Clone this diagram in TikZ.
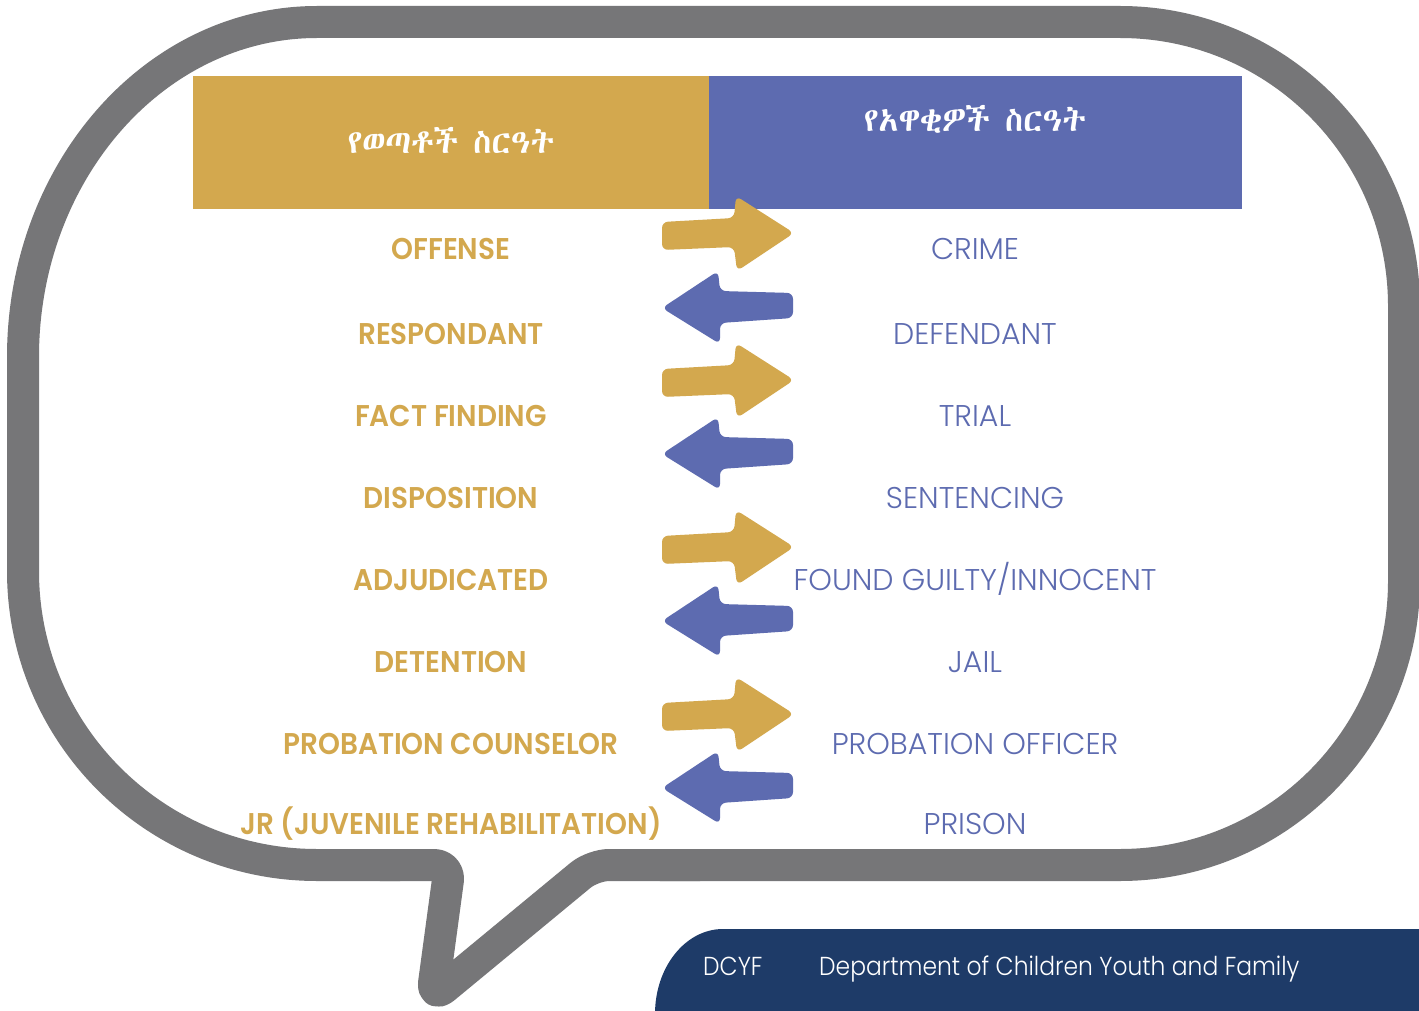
\documentclass[tikz,border=0pt]{standalone}
\usepackage{fontspec}
\setmainfont{Poppins}
\IfFontExistsTF{Poppins SemiBold}{\newfontfamily\lblfont{Poppins SemiBold}[FakeStretch=0.93]}{\newfontfamily\lblfont{Poppins}[UprightFont={* Bold},FakeStretch=0.93]}
\IfFontExistsTF{Poppins Light}{\newfontfamily\thinfont{Poppins Light}\newfontfamily\navyfont{Poppins Light}[FakeStretch=0.9]}{\newfontfamily\thinfont{Poppins}\newfontfamily\navyfont{Poppins}[FakeStretch=0.9]}
\IfFontExistsTF{FreeSerif.otf}{\newfontfamily\ethfont{FreeSerif.otf}[FakeBold=2.2]}{%
  \IfFontExistsTF{Abyssinica SIL}{\newfontfamily\ethfont{Abyssinica SIL}}{%
   \newfontfamily\ethfont{DejaVu Sans}}}
\definecolor{gold}{HTML}{D3A84E}
\definecolor{lblue}{HTML}{5D6BB0}
\definecolor{bgray}{HTML}{767678}
\definecolor{navy}{HTML}{1E3B68}
\tikzset{
  bubble/.style={draw=bgray, line width=32pt, line join=round, line cap=round},
  hdr/.style={text=white, font=\ethfont\fontsize{33}{40}\selectfont, inner sep=0pt},
  lefttxt/.style={text=gold, font=\lblfont\fontsize{30}{36}\selectfont, anchor=base, inner sep=0pt},
  righttxt/.style={text=lblue, font=\thinfont\fontsize{30}{36}\selectfont, anchor=base, inner sep=0pt},
  navytxt/.style={text=white, font=\navyfont\fontsize{26}{31}\selectfont, anchor=base west, inner sep=0pt},
  goldarrow/.pic={\fill[gold, rounded corners=6pt] (-65,-11) -- (7,-15) -- (9,-37) -- (67,0) -- (10,38) -- (7,14) -- (-65,17) -- cycle;},
  bluearrow/.pic={\fill[lblue, rounded corners=6pt] (65,-15) -- (-8,-17) -- (-10,-37) -- (-66,0) -- (-8,36) -- (-8,15) -- (65,10) -- cycle;}
}
\begin{document}
\begin{tikzpicture}[x=1pt,y=-1pt]
\useasboundingbox (0,0) rectangle (1419,1011);
\clip (0,0) rectangle (1419,1011);
\fill[white] (0,0) rectangle (1419,1011);
% speech bubble
\draw[bubble] (400,865) -- (317,865) arc[start angle=90,end angle=180,radius=294]
  -- (23,357) arc[start angle=180,end angle=270,x radius=294,y radius=335]
  -- (1120,22) arc[start angle=-90,end angle=0,radius=284]
  -- (1404,581) arc[start angle=0,end angle=90,radius=284] -- (660,865);
\draw[bubble, rounded corners=16pt] (700,865) -- (593,865) -- (432,998) -- (450,865) -- (380,865);
% headers
\fill[gold] (193,76) rectangle (709,209);
\fill[lblue] (709,76) rectangle (1242,209);
\node[hdr] (h1) at (451,140) {የወጣቶች ስርዓት};
\node[hdr] (h2) at (975,119) {የአዋቂዎች ስርዓት};
% arrows
\foreach \c in {233,380,547,714} \pic at (727,\c) {goldarrow};
\foreach \c in {308,454,621,788} \pic at (728,\c) {bluearrow};
% labels
\node[lefttxt] (l1) at (451,259.5) {OFFENSE};
\node[lefttxt] (l2) at (451,344.5) {RESPONDANT};
\node[lefttxt] (l3) at (451,426.5) {FACT FINDING};
\node[lefttxt] (l4) at (451,508.5) {DISPOSITION};
\node[lefttxt] (l5) at (451,590.5) {ADJUDICATED};
\node[lefttxt] (l6) at (451,672.5) {DETENTION};
\node[lefttxt] (l7) at (451,754.5) {PROBATION COUNSELOR};
\node[lefttxt] (l8) at (451,834.5) {JR (JUVENILE REHABILITATION)};
\node[righttxt] (r1) at (975,259.5) {CRIME};
\node[righttxt] (r2) at (975,344.5) {DEFENDANT};
\node[righttxt] (r3) at (975,426.5) {TRIAL};
\node[righttxt] (r4) at (975,508.5) {SENTENCING};
\node[righttxt] (r5) at (975,590.5) {FOUND GUILTY/INNOCENT};
\node[righttxt] (r6) at (975,672.5) {JAIL};
\node[righttxt] (r7) at (975,754.5) {PROBATION OFFICER};
\node[righttxt] (r8) at (975,834.5) {PRISON};
% bottom box
\fill[navy] (655,1030) -- (655,1014) arc[start angle=180,end angle=270,x radius=68,y radius=85] -- (1430,929) -- (1430,1030) -- cycle;
\node[navytxt] (dcyf) at (703,975) {DCYF};
\node[navytxt] (dept) at (819,975) {Department of Children Youth and Family};
\end{tikzpicture}
\end{document}
